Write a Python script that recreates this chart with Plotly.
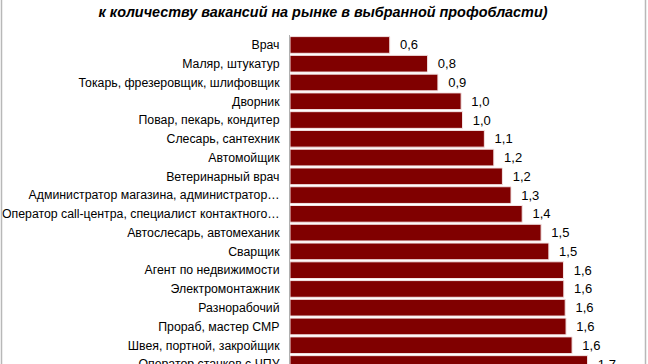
import plotly.graph_objects as go

categories = [
    "Врач",
    "Маляр, штукатур",
    "Токарь, фрезеровщик, шлифовщик",
    "Дворник",
    "Повар, пекарь, кондитер",
    "Слесарь, сантехник",
    "Автомойщик",
    "Ветеринарный врач",
    "Администратор магазина, администратор…",
    "Оператор call-центра, специалист контактного…",
    "Автослесарь, автомеханик",
    "Сварщик",
    "Агент по недвижимости",
    "Электромонтажник",
    "Разнорабочий",
    "Прораб, мастер СМР",
    "Швея, портной, закройщик",
    "Оператор станков с ЧПУ",
]
values = [0.58, 0.80, 0.86, 0.995, 1.003, 1.13, 1.185, 1.235, 1.285, 1.35,
          1.46, 1.505, 1.59, 1.592, 1.60, 1.605, 1.64, 1.73]

title_text = "к количеству вакансий на рынке в выбранной профобласти)"

BAR = "#800000"
FONT = "Liberation Sans, Arial, sans-serif"

fig = go.Figure(
    go.Bar(
        x=values,
        y=categories,
        orientation="h",
        marker=dict(color=BAR, line=dict(color="#f4e4e4", width=1)),
        texttemplate="\u00a0\u00a0%{x:.1f}",
        textposition="outside",
        textfont=dict(family=FONT, size=13, color="#000000"),
        cliponaxis=False,
        width=0.89,
    )
)

fig.update_layout(
    width=648,
    height=364,
    separators=", ",
    paper_bgcolor="white",
    plot_bgcolor="white",
    showlegend=False,
    margin=dict(l=290, r=14, t=35, b=0, autoexpand=False),
    font=dict(family=FONT, size=12, color="#000000"),
    title=dict(
        text=title_text,
        x=0.4985,
        xref="container",
        xanchor="center",
        y=1 - 12 / 364,
        yref="container",
        yanchor="middle",
        font=dict(family=FONT, size=14.4, color="#000000", weight="bold", style="italic"),
    ),
    xaxis=dict(
        range=[0, 2.0],
        visible=False,
        showgrid=False,
        zeroline=False,
        fixedrange=True,
        automargin=False,
    ),
    yaxis=dict(
        type="category",
        categoryorder="array",
        categoryarray=categories,
        range=[17.0, -0.53],
        showline=True,
        linecolor="#b0b0b0",
        linewidth=1,
        ticks="",
        showgrid=False,
        ticklabelstandoff=7,
        tickfont=dict(family=FONT, size=12.3, color="#000000"),
        fixedrange=True,
        automargin=False,
    ),
    shapes=[
        dict(type="line", xref="paper", yref="paper",
             x0=(1.5 - 290) / 344, x1=(1.5 - 290) / 344, y0=-0.3, y1=1.3,
             line=dict(color="#b8b8b8", width=1.5)),
        dict(type="line", xref="paper", yref="paper",
             x0=(645.5 - 290) / 344, x1=(645.5 - 290) / 344, y0=-0.3, y1=1.3,
             line=dict(color="#b8b8b8", width=1.5)),
    ],
)

fig.write_html(
    "out.html",
    config={"displayModeBar": False},
    post_script="document.body.style.margin='0';document.body.style.overflow='hidden';",
)
